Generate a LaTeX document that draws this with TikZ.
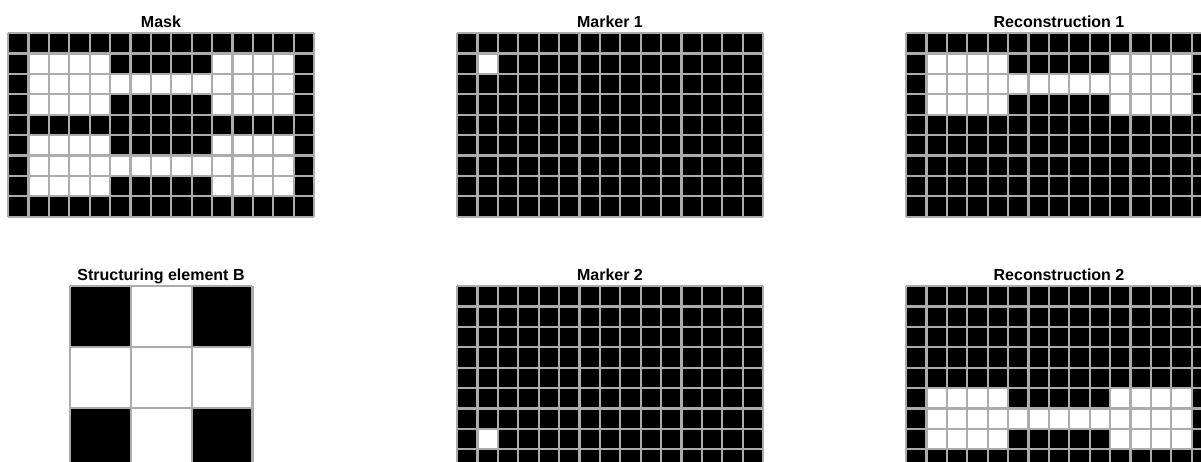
\documentclass[tikz,border=0pt]{standalone}
\usepackage{fontspec}
\setmainfont{Liberation Sans}
\usetikzlibrary{positioning}
\definecolor{gridgray}{RGB}{172,172,172}

\tikzset{
  plottitle/.style={font=\bfseries\fontsize{16}{18}\selectfont, anchor=base, inner sep=0pt},
  cellline/.style={draw=gridgray, line width=2.2pt},
  blackcell/.style={fill=black},
  whitecell/.style={fill=white}
}

%% grid lines of a #1 x #2 board, cell size #3
\newcommand{\gridlines}[3]{%
  \foreach \i in {0,...,#1} \draw[cellline] ({\i*#3},0) -- ({\i*#3},{#2*#3});
  \foreach \j in {0,...,#2} \draw[cellline] (0,{\j*#3}) -- ({#1*#3},{\j*#3});
}

\begin{document}
\begin{tikzpicture}[x=1pt, y=-1pt]
  \useasboundingbox (0,0) rectangle (1201,461);
  \clip (0,0) rectangle (1201,461);

  %% Titles
  \node[plottitle] (tmask)  at (161,27.5)  {Mask};
  \node[plottitle] (tmark1) at (610,27.5)  {Marker 1};
  \node[plottitle] (trec1)  at (1059,27.5) {Reconstruction 1};
  \node[plottitle] (tse)    at (161,280.5) {Structuring element B};
  \node[plottitle] (tmark2) at (610,280.5) {Marker 2};
  \node[plottitle] (trec2)  at (1059,280.5) {Reconstruction 2};

  %% Mask
  \begin{scope}[shift={(8,33)}]
    \fill[blackcell] (0,0) rectangle (306,183.6);
    \foreach \r in {1,3,5,7} \foreach \c in {1,2,3,4,10,11,12,13}
      \fill[whitecell] ({\c*20.4},{\r*20.4}) rectangle ++(20.4,20.4);
    \foreach \r in {2,6} \foreach \c in {1,...,13}
      \fill[whitecell] ({\c*20.4},{\r*20.4}) rectangle ++(20.4,20.4);
    \gridlines{15}{9}{20.4}
  \end{scope}

  %% Marker 1
  \begin{scope}[shift={(457,33)}]
    \fill[blackcell] (0,0) rectangle (306,183.6);
    \fill[whitecell] (20.4,20.4) rectangle ++(20.4,20.4);
    \gridlines{15}{9}{20.4}
  \end{scope}

  %% Reconstruction 1
  \begin{scope}[shift={(906,33)}]
    \fill[blackcell] (0,0) rectangle (306,183.6);
    \foreach \r in {1,3} \foreach \c in {1,2,3,4,10,11,12,13}
      \fill[whitecell] ({\c*20.4},{\r*20.4}) rectangle ++(20.4,20.4);
    \foreach \c in {1,...,13}
      \fill[whitecell] ({\c*20.4},40.8) rectangle ++(20.4,20.4);
    \gridlines{15}{9}{20.4}
  \end{scope}

  %% Structuring element B
  \begin{scope}[shift={(70,286)}]
    \foreach \r/\c in {0/0,0/2,2/0,2/2}
      \fill[blackcell] ({\c*60.8},{\r*60.8}) rectangle ++(60.8,60.8);
    \gridlines{3}{3}{60.8}
  \end{scope}

  %% Marker 2
  \begin{scope}[shift={(457,286)}]
    \fill[blackcell] (0,0) rectangle (306,183.6);
    \fill[whitecell] (20.4,142.8) rectangle ++(20.4,20.4);
    \gridlines{15}{9}{20.4}
  \end{scope}

  %% Reconstruction 2
  \begin{scope}[shift={(906,286)}]
    \fill[blackcell] (0,0) rectangle (306,183.6);
    \foreach \r in {5,7} \foreach \c in {1,2,3,4,10,11,12,13}
      \fill[whitecell] ({\c*20.4},{\r*20.4}) rectangle ++(20.4,20.4);
    \foreach \c in {1,...,13}
      \fill[whitecell] ({\c*20.4},122.4) rectangle ++(20.4,20.4);
    \gridlines{15}{9}{20.4}
  \end{scope}
\end{tikzpicture}
\end{document}
